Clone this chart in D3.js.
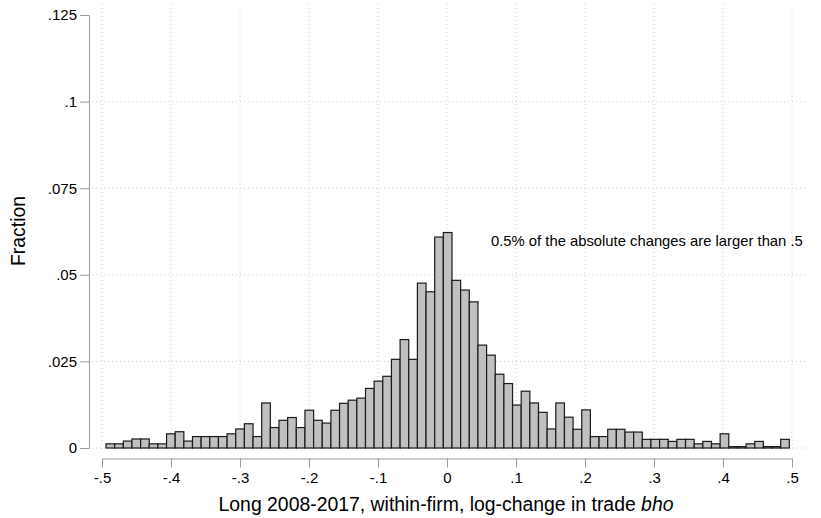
<!DOCTYPE html>
<html>
<head>
<meta charset="utf-8">
<script src="https://cdn.jsdelivr.net/npm/d3@7"></script>
<style>
  html, body { margin: 0; padding: 0; background: #ffffff; }
  svg { display: block; }
  text { font-family: "Liberation Sans", Arial, Helvetica, sans-serif; fill: #000; }
</style>
</head>
<body>
<svg id="chart" width="821" height="518"></svg>
<script>
// ---- data ----
const binStart = -0.4942;       // lower edge of first bin
const binWidth = 0.012536;      // histogram bin width
const fractions = [
  0.0012, 0.0012, 0.0020, 0.0026, 0.0026, 0.0012, 0.0012, 0.0041, 0.0047, 0.0020,
  0.0033, 0.0033, 0.0033, 0.0033, 0.0041, 0.0055, 0.0070, 0.0033, 0.0130, 0.0059,
  0.0080, 0.0088, 0.0059, 0.0109, 0.0080, 0.0072, 0.0109, 0.0129, 0.0138, 0.0144,
  0.0172, 0.0193, 0.0207, 0.0256, 0.0313, 0.0256, 0.0476, 0.0451, 0.0609, 0.0622,
  0.0484, 0.0456, 0.0422, 0.0297, 0.0268, 0.0213, 0.0186, 0.0124, 0.0164, 0.0130,
  0.0103, 0.0055, 0.0130, 0.0089, 0.0054, 0.0110, 0.0033, 0.0033, 0.0054, 0.0054,
  0.0046, 0.0046, 0.0025, 0.0025, 0.0025, 0.0019, 0.0025, 0.0025, 0.0012, 0.0019,
  0.0012, 0.0041, 0.0004, 0.0004, 0.0012, 0.0019, 0.0004, 0.0004, 0.0025
];
const xTicks = [-0.5, -0.4, -0.3, -0.2, -0.1, 0, 0.1, 0.2, 0.3, 0.4, 0.5];
const xTickLabels = ["-.5", "-.4", "-.3", "-.2", "-.1", "0", ".1", ".2", ".3", ".4", ".5"];
const yTicks = [0, 0.025, 0.05, 0.075, 0.1, 0.125];
const yTickLabels = ["0", ".025", ".05", ".075", ".1", ".125"];
const yGridTicks = [0, 0.025, 0.05, 0.075, 0.1];
const xTitle = "Long 2008-2017, within-firm, log-change in trade ";
const xTitleItalic = "bho";
const yTitle = "Fraction";
const note = "0.5% of the absolute changes are larger than .5";

// ---- layout ----
const svg = d3.select("#chart");
svg.append("rect").attr("width", 821).attr("height", 518).attr("fill", "#fff");

const x = d3.scaleLinear().domain([-0.5, 0.5]).range([102, 792]);
const y = d3.scaleLinear().domain([0, 0.125]).range([448, 15]);

const plotLeft = 92, plotRight = 806, plotTop = 4, plotBottom = 451;
const gridColor = "#cfcfcf";
const axisColor = "#9a9a9a";

// gridlines
const grid = svg.append("g");
grid.selectAll("line.hg").data(yGridTicks).join("line")
  .attr("x1", plotLeft).attr("x2", plotRight)
  .attr("y1", d => y(d)).attr("y2", d => y(d))
  .attr("stroke", gridColor).attr("stroke-width", 1)
  .attr("stroke-dasharray", "1,3");
grid.selectAll("line.vg").data(xTicks).join("line")
  .attr("y1", plotTop).attr("y2", plotBottom)
  .attr("x1", d => x(d)).attr("x2", d => x(d))
  .attr("stroke", gridColor).attr("stroke-width", 1)
  .attr("stroke-dasharray", "1,3");

// bars
const bins = fractions.map((f, i) => ({ x0: binStart + i * binWidth, x1: binStart + (i + 1) * binWidth, f }));
svg.append("g").selectAll("rect").data(bins).join("rect")
  .attr("x", d => x(d.x0))
  .attr("width", d => x(d.x1) - x(d.x0))
  .attr("y", d => y(d.f))
  .attr("height", d => y(0) - y(d.f))
  .attr("fill", "#c0c0c0")
  .attr("stroke", "#1a1a1a")
  .attr("stroke-width", 1.2);

// y axis
const yAxis = d3.axisLeft(y).tickValues(yTicks)
  .tickFormat((d, i) => yTickLabels[i]).tickSize(9).tickSizeOuter(0).tickPadding(3);
const gy = svg.append("g").attr("transform", "translate(89,0)").call(yAxis);
gy.select(".domain").attr("stroke", axisColor);
gy.selectAll(".tick line").attr("stroke", axisColor);
gy.selectAll(".tick text").style("font-size", "15px").attr("fill", "#000");

// x axis
const xAxis = d3.axisBottom(x).tickValues(xTicks)
  .tickFormat((d, i) => xTickLabels[i]).tickSize(9).tickSizeOuter(0).tickPadding(5);
const gx = svg.append("g").attr("transform", "translate(0,458.5)").call(xAxis);
gx.select(".domain").attr("stroke", axisColor);
gx.selectAll(".tick line").attr("stroke", axisColor);
gx.selectAll(".tick text").style("font-size", "15px").attr("fill", "#000");

// titles
const xt = svg.append("text").attr("x", 446).attr("y", 511)
  .attr("text-anchor", "middle").style("font-size", "19.4px");
xt.append("tspan").text(xTitle);
xt.append("tspan").style("font-style", "italic").text(xTitleItalic);

svg.append("text")
  .attr("transform", "translate(25,231) rotate(-90)")
  .attr("text-anchor", "middle").style("font-size", "19.4px")
  .text(yTitle);

// note
svg.append("text").attr("x", 491).attr("y", 246)
  .style("font-size", "14.8px").text(note);
</script>
</body>
</html>
